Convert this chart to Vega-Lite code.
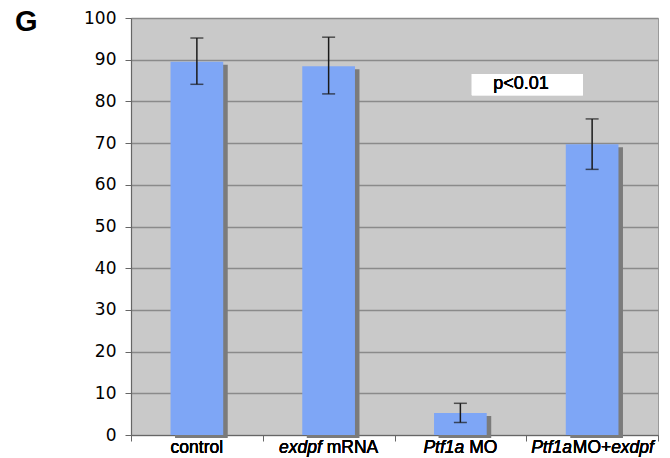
{
  "$schema": "https://vega.github.io/schema/vega-lite/v6.json",
  "autosize": "none",
  "width": 527,
  "height": 417,
  "padding": {"left": 131, "top": 18, "right": 12, "bottom": 23},
  "background": "white",
  "config": {
    "view": {"fill": "#c9c9c9", "stroke": "#9a9a9a", "strokeWidth": 1},
    "font": "Arial",
    "text": {"font": "Arial", "fontWeight": 400}
  },
  "title": {
    "text": "G",
    "anchor": "start",
    "frame": "group",
    "font": "Arial",
    "fontSize": 29,
    "fontWeight": "bold",
    "fontStyle": "normal",
    "color": "black",
    "baseline": "alphabetic",
    "offset": 0,
    "dx": -116,
    "dy": 51
  },
  "data": {
    "values": [
      {"group": "control", "value": 89.5, "lo": 84.1, "hi": 95.2},
      {"group": "exdpf mRNA", "value": 88.4, "lo": 81.8, "hi": 95.4},
      {"group": "Ptf1a MO", "value": 5.3, "lo": 3.0, "hi": 7.6},
      {"group": "Ptf1aMO+exdpf", "value": 69.7, "lo": 63.7, "hi": 75.8}
    ]
  },
  "encoding": {
    "x": {
      "field": "group",
      "type": "nominal",
      "sort": null,
      "scale": {"paddingInner": 0, "paddingOuter": 0},
      "axis": {
        "title": null,
        "labels": false,
        "tickBand": "extent",
        "ticks": true,
        "tickSize": 6,
        "tickColor": "#666",
        "domainColor": "#666",
        "domainWidth": 1.2,
        "grid": false
      }
    }
  },
  "layer": [
    {
      "mark": {"type": "bar", "color": "#7b7b7b", "width": {"band": 0.4}, "xOffset": 4.5, "yOffset": 3, "y2Offset": -3},
      "encoding": {
        "y": {
          "field": "value",
          "type": "quantitative",
          "scale": {"domain": [0, 100], "nice": false},
          "axis": {
            "title": null,
            "values": [0, 10, 20, 30, 40, 50, 60, 70, 80, 90, 100],
            "grid": true,
            "gridColor": "#8a8a8a",
            "gridWidth": 1.3,
            "domainColor": "#666",
            "domainWidth": 1.2,
            "tickColor": "#666",
            "tickSize": 6,
            "labelFont": "DejaVu Sans",
            "labelFontSize": 17,
            "labelColor": "black",
            "labelPadding": 9
          }
        }
      }
    },
    {
      "mark": {"type": "bar", "color": "#7ea6f6", "width": {"band": 0.4}},
      "encoding": {"y": {"field": "value", "type": "quantitative"}}
    },
    {
      "mark": {"type": "rule", "color": "#1a1a1a", "strokeWidth": 1.5},
      "encoding": {
        "y": {"field": "lo", "type": "quantitative"},
        "y2": {"field": "hi"}
      }
    },
    {
      "mark": {"type": "tick", "color": "#1a1a1a", "size": 13, "thickness": 1.5, "orient": "horizontal"},
      "encoding": {"y": {"field": "lo", "type": "quantitative"}}
    },
    {
      "mark": {"type": "tick", "color": "#1a1a1a", "size": 13, "thickness": 1.5, "orient": "horizontal"},
      "encoding": {"y": {"field": "hi", "type": "quantitative"}}
    },
    {
      "mark": {"type": "text", "text": "control", "fontSize": 17.5, "align": "center", "baseline": "middle", "dy": 13, "color": "black"},
      "encoding": {"x": {"datum": "control"}, "y": {"datum": 0}}
    },
    {
      "mark": {"type": "text", "text": "exdpf", "fontStyle": "italic", "fontSize": 17.5, "align": "right", "baseline": "middle", "dx": -6.8, "dy": 13, "color": "black"},
      "encoding": {"x": {"datum": "exdpf mRNA"}, "y": {"datum": 0}}
    },
    {
      "mark": {"type": "text", "text": "mRNA", "fontSize": 17.5, "align": "left", "baseline": "middle", "dx": -1.9, "dy": 13, "color": "black"},
      "encoding": {"x": {"datum": "exdpf mRNA"}, "y": {"datum": 0}}
    },
    {
      "mark": {"type": "text", "text": "Ptf1a", "fontStyle": "italic", "fontSize": 17.5, "align": "right", "baseline": "middle", "dx": 3.9, "dy": 13, "color": "black"},
      "encoding": {"x": {"datum": "Ptf1a MO"}, "y": {"datum": 0}}
    },
    {
      "mark": {"type": "text", "text": "MO", "fontSize": 17.5, "align": "left", "baseline": "middle", "dx": 8.8, "dy": 13, "color": "black"},
      "encoding": {"x": {"datum": "Ptf1a MO"}, "y": {"datum": 0}}
    },
    {
      "mark": {"type": "text", "text": "Ptf1a", "fontStyle": "italic", "fontSize": 17.5, "align": "right", "baseline": "middle", "dx": -20.1, "dy": 13, "color": "black"},
      "encoding": {"x": {"datum": "Ptf1aMO+exdpf"}, "y": {"datum": 0}}
    },
    {
      "mark": {"type": "text", "text": "MO+", "fontSize": 17.5, "align": "left", "baseline": "middle", "dx": -19.3, "dy": 13, "color": "black"},
      "encoding": {"x": {"datum": "Ptf1aMO+exdpf"}, "y": {"datum": 0}}
    },
    {
      "mark": {"type": "text", "text": "exdpf", "fontStyle": "italic", "fontSize": 17.5, "align": "left", "baseline": "middle", "dx": 19.0, "dy": 13, "color": "black"},
      "encoding": {"x": {"datum": "Ptf1aMO+exdpf"}, "y": {"datum": 0}}
    },
    {
      "mark": {"type": "rect", "color": "white"},
      "encoding": {
        "x": {"datum": "Ptf1a MO", "bandPosition": 0.587},
        "x2": {"datum": "Ptf1aMO+exdpf", "bandPosition": 0.43},
        "y": {"datum": 81.5},
        "y2": {"datum": 86.6}
      }
    },
    {
      "mark": {"type": "text", "text": "p<0.01", "fontSize": 18, "align": "center", "baseline": "middle", "color": "black"},
      "encoding": {
        "x": {"datum": "Ptf1a MO", "bandPosition": 0.96},
        "y": {"datum": 84.1}
      }
    }
  ]
}
